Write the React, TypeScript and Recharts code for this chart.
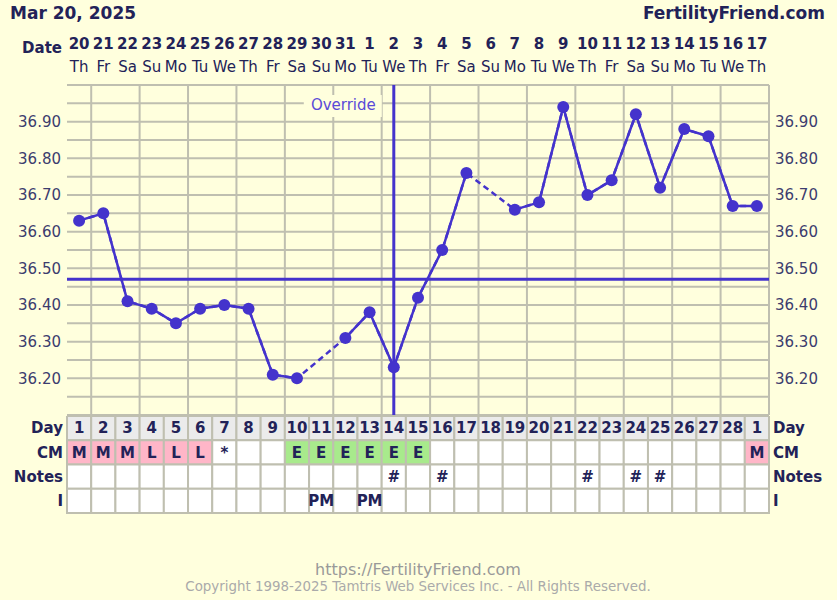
import React from 'react';
import { ComposedChart, Line, XAxis, YAxis, CartesianGrid, ReferenceLine, ReferenceArea } from 'recharts';

const dates = ['20','21','22','23','24','25','26','27','28','29','30','31','1','2','3','4','5','6','7','8','9','10','11','12','13','14','15','16','17'];
const weekdays = ['Th','Fr','Sa','Su','Mo','Tu','We','Th','Fr','Sa','Su','Mo','Tu','We','Th','Fr','Sa','Su','Mo','Tu','We','Th','Fr','Sa','Su','Mo','Tu','We','Th'];
const cycleDays = ['1','2','3','4','5','6','7','8','9','10','11','12','13','14','15','16','17','18','19','20','21','22','23','24','25','26','27','28','1'];
const temps: (number | null)[] = [36.63,36.65,36.41,36.39,36.35,36.39,36.40,36.39,36.21,36.20,null,36.31,36.38,36.23,36.42,36.55,36.76,null,36.66,36.68,36.94,36.70,36.74,36.92,36.72,36.88,36.86,36.67,36.67];
const cm = ['M','M','M','L','L','L','*','','','E','E','E','E','E','E','','','','','','','','','','','','','','M'];
const notes = ['','','','','','','','','','','','','','#','','#','','','','','','#','','#','#','','','',''];
const intercourse = ['','','','','','','','','','','PM','','PM','','','','','','','','','','','','','','','',''];
const yTicks = [36.2,36.3,36.4,36.5,36.6,36.7,36.8,36.9];
const rowLabels = ['Day','CM','Notes','I'];
const coverline = 36.47;
const overrideDay = 14;

const FONT = '"DejaVu Sans", Verdana, sans-serif';
const BG = '#FFFFDD';
const NAVY = '#222258';
const LINE = '#4433CC';
const GRID = '#BFBFB0';

const data = temps.map((t, i) => ({ x: i + 1, temp: t }));
const dayTicks = dates.map((_, i) => i + 1);
const gridY: number[] = [];
for (let k = 0; k <= 18; k++) gridY.push(Math.round((36.1 + k * 0.05) * 100) / 100);
const gridX: number[] = [];
for (let k = 0; k <= 29; k++) gridX.push(k + 0.5);

const DateTick = (props: any) => {
  const { x, payload } = props;
  const i = payload.value - 1;
  return (
    <g>
      <text x={x} y={49} textAnchor="middle" fontWeight="bold" fontSize={15} fill={NAVY} fontFamily={FONT}>{dates[i]}</text>
      <text x={x} y={72} textAnchor="middle" fontSize={15} fill={NAVY} fontFamily={FONT}>{weekdays[i]}</text>
    </g>
  );
};

const OverrideLabel = (props: any) => {
  const vb = props.viewBox || {};
  const x = vb.x;
  const y = vb.y;
  return (
    <g>
      <rect x={x - 90} y={y + 10} width={78} height={22} fill={BG} />
      <text x={x - 18} y={y + 20} textAnchor="end" dominantBaseline="central" fill="#5A4AD8" fontSize={15} fontFamily={FONT}>Override</text>
    </g>
  );
};

const cellFill = (row: number, i: number) => {
  if (row === 0) return '#EBEBEB';
  if (row === 1) {
    const v = cm[i];
    if (v === 'M' || v === 'L') return '#FFB6C8';
    if (v === 'E') return '#A8EA8C';
  }
  return '#FFFFFF';
};
const cellText = (row: number, i: number) => {
  if (row === 0) return cycleDays[i];
  if (row === 1) return cm[i];
  if (row === 2) return notes[i];
  return intercourse[i];
};

export default function App() {
  const cells: React.ReactNode[] = [];
  for (let r = 0; r < 4; r++) {
    for (let i = 0; i < dates.length; i++) {
      const txt = cellText(r, i);
      cells.push(
        <ReferenceArea
          key={`c${r}-${i}`}
          yAxisId="tl"
          x1={i + 0.5}
          x2={i + 1.5}
          y1={r}
          y2={r + 1}
          fill={cellFill(r, i)}
          fillOpacity={1}
          stroke={GRID}
          strokeWidth={2}
          strokeOpacity={1}
          ifOverflow="visible"
          label={txt ? { value: txt, position: 'center', fill: NAVY, fontSize: 15, fontWeight: 'bold', fontFamily: FONT } : undefined}
        />
      );
    }
  }
  return (
    <div style={{ position: 'absolute', left: 0, top: 0, width: 837, height: 600, background: BG, fontFamily: FONT, overflow: 'hidden' }}>
      <svg width={837} height={600} style={{ position: 'absolute', left: 0, top: 0 }}>
        <text x={10} y={19} fontSize={17} fontWeight="bold" fill={NAVY} fontFamily={FONT}>Mar 20, 2025</text>
        <text x={825} y={19} fontSize={17} fontWeight="bold" fill={NAVY} fontFamily={FONT} textAnchor="end">FertilityFriend.com</text>
        <text x={62} y={53} fontSize={15} fontWeight="bold" fill={NAVY} fontFamily={FONT} textAnchor="end">Date</text>
        <text x={418} y={575} fontSize={16} fill="#999999" fontFamily={FONT} textAnchor="middle">https://FertilityFriend.com</text>
        <text x={418} y={591} fontSize={13.4} fill="#AAAAAA" fontFamily={FONT} textAnchor="middle">Copyright 1998-2025 Tamtris Web Services Inc. - All Rights Reserved.</text>
      </svg>
      <div style={{ position: 'absolute', left: 0, top: 0 }}>
        <ComposedChart width={837} height={430} data={data} margin={{ top: 55, right: 0, bottom: 15, left: 0 }}>
          <XAxis xAxisId="top" orientation="top" type="number" dataKey="x" domain={[0.5, 29.5]} ticks={dayTicks} interval={0} height={30} axisLine={false} tickLine={false} tick={<DateTick />} allowDataOverflow />
          <XAxis type="number" dataKey="x" domain={[0.5, 29.5]} hide allowDataOverflow />
          <YAxis yAxisId="left" orientation="left" type="number" width={67} domain={[36.1, 37.0]} ticks={yTicks} interval={0} tickFormatter={(v: number) => v.toFixed(2)} axisLine={false} tickLine={false} tickSize={0} tickMargin={6} tick={{ fill: '#3C3C6E', fontSize: 15, fontFamily: FONT }} allowDataOverflow />
          <YAxis yAxisId="right" orientation="right" type="number" width={68} domain={[36.1, 37.0]} ticks={yTicks} interval={0} tickFormatter={(v: number) => v.toFixed(2)} axisLine={false} tickLine={false} tickSize={0} tickMargin={6} tick={{ fill: '#3C3C6E', fontSize: 15, fontFamily: FONT }} allowDataOverflow />
          <CartesianGrid yAxisId="left" horizontalValues={gridY} verticalValues={gridX} stroke={GRID} strokeWidth={2} fill="none" />
          <ReferenceLine yAxisId="left" y={coverline} stroke={LINE} strokeWidth={3} />
          <ReferenceLine yAxisId="left" x={overrideDay} stroke={LINE} strokeWidth={3} label={<OverrideLabel />} />
          <Line yAxisId="left" dataKey="temp" connectNulls stroke={LINE} strokeWidth={2.5} strokeDasharray="6 4" dot={false} activeDot={false} isAnimationActive={false} />
          <Line yAxisId="left" dataKey="temp" stroke={LINE} strokeWidth={2.5} dot={{ r: 6, fill: LINE, stroke: LINE, strokeWidth: 0 }} activeDot={false} isAnimationActive={false} />
        </ComposedChart>
      </div>
      <div style={{ position: 'absolute', left: 0, top: 416 }}>
        <ComposedChart width={837} height={100} data={data} margin={{ top: 0, right: 0, bottom: 3, left: 0 }}>
          <XAxis type="number" dataKey="x" domain={[0.5, 29.5]} hide allowDataOverflow />
          <YAxis yAxisId="tl" orientation="left" type="number" width={67} domain={[0, 4]} reversed ticks={[0.5, 1.5, 2.5, 3.5]} interval={0} tickFormatter={(v: number) => rowLabels[Math.floor(v)]} axisLine={false} tickLine={false} tickSize={0} tickMargin={4} tick={{ fill: NAVY, fontSize: 15, fontWeight: 'bold', fontFamily: FONT }} allowDataOverflow />
          <YAxis yAxisId="tr" orientation="right" type="number" width={68} domain={[0, 4]} reversed ticks={[0.5, 1.5, 2.5, 3.5]} interval={0} tickFormatter={(v: number) => rowLabels[Math.floor(v)]} axisLine={false} tickLine={false} tickSize={0} tickMargin={4} tick={{ fill: NAVY, fontSize: 15, fontWeight: 'bold', fontFamily: FONT, textAnchor: 'start' }} allowDataOverflow />
          {cells}
        </ComposedChart>
      </div>
    </div>
  );
}
